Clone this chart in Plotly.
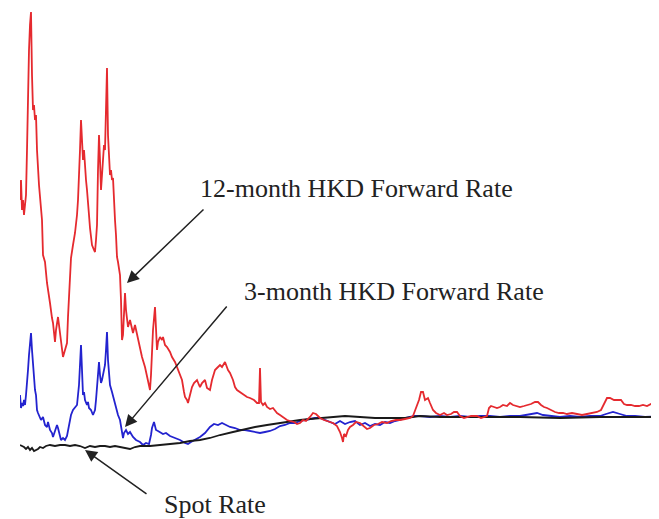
import plotly.graph_objects as go

# ---- data (time index, level) ----
t_red = [0,1,2,3,4,5,6,7,8,9,10,11,12,13,14,15,16,17,19,21,22,23,25,27,29,30,32,33,35,36,38,40,42,43,45,47,48,50,51,53,55,57,58,60,61,62,63,64,65,66,67,68,69,70,71,72,74,75,76,77,78,79,80,81,82,83,84,85,86,87,88,89,90,91,92,93,94,95,96,97,98,100,101,102,103,104,105,106,108,110,112,113,115,118,120,122,125,128,130,131,132,133,135,136,137,138,140,142,143,145,147,150,152,155,157,160,162,164,165,167,168,170,172,174,177,179,180,182,185,187,190,192,195,197,200,202,205,208,210,213,215,217,220,224,227,230,234,237,239,240,241,243,245,247,250,253,257,260,264,267,270,274,277,280,283,286,290,293,296,300,304,308,313,317,320,322,323,324,326,328,330,333,336,340,344,347,350,354,358,362,367,371,376,380,385,390,393,396,399,401,403,405,408,410,413,416,420,424,427,431,434,437,440,444,447,451,454,457,461,464,467,469,471,474,477,480,483,487,490,493,497,500,504,508,511,515,518,521,524,527,531,535,539,543,547,552,557,562,567,572,577,581,584,587,590,594,598,601,604,607,611,615,619,623,627,631,635,639]
red_12m = [319,339,309,319,304,314,324,369,429,469,494,507,444,409,414,399,404,369,334,304,299,264,257,236,224,216,201,196,177,189,202,184,172,162,169,176,202,254,261,274,286,304,319,369,399,379,359,369,347,339,329,309,304,291,284,274,269,267,279,294,349,384,359,329,344,364,374,369,409,451,384,369,344,349,339,341,312,299,284,262,257,244,219,179,184,214,226,209,192,199,189,186,194,179,169,162,152,139,129,144,169,189,212,189,169,177,182,179,182,174,172,167,162,157,152,144,139,127,122,119,116,124,132,136,139,134,132,136,139,131,129,139,149,151,154,152,157,149,146,139,132,129,127,124,122,121,119,116,116,151,117,114,116,112,110,111,106,104,101,99,98,97,95,96,99,98,102,106,105,101,99,98,96,93,87,81,77,85,83,89,92,94,97,96,93,90,91,94,95,97,96,98,99,99,100,101,103,111,119,127,127,119,121,116,109,106,104,106,104,105,107,107,103,101,102,103,103,103,101,102,103,111,113,112,111,112,114,113,116,114,113,112,113,114,115,117,117,114,112,111,109,107,106,106,105,106,105,104,105,106,107,109,115,121,121,119,119,119,115,114,114,113,113,114,113,115,114,114]

t_blue = [0,1,2,3,4,5,6,7,8,9,10,11,12,13,14,15,16,17,18,19,21,23,25,27,28,30,32,33,35,37,38,40,41,43,45,47,49,51,53,55,57,59,61,62,63,64,65,67,68,69,71,73,75,76,77,78,79,80,81,82,84,85,86,87,88,89,90,92,94,96,98,100,102,103,104,106,108,110,113,116,120,123,126,129,131,132,134,136,138,140,143,146,150,155,160,165,168,171,175,180,185,190,194,198,202,206,210,215,220,225,230,235,240,245,250,255,260,265,270,275,280,285,290,295,300,305,310,315,320,325,330,335,340,345,350,355,360,365,370,375,380,385,390,395,400,410,420,430,440,450,460,470,480,490,500,510,517,523,530,540,550,560,570,580,586,593,600,607,615,625,639]
blue_3m = [124,111,116,113,119,114,124,134,149,164,179,186,169,152,147,129,124,109,106,104,99,102,94,92,97,89,86,82,87,94,91,84,79,81,79,83,94,104,109,111,114,134,174,149,124,127,119,114,117,111,109,104,109,119,134,151,157,144,136,139,147,154,169,187,159,141,134,127,119,111,104,99,89,81,86,89,85,87,82,79,77,74,76,75,84,91,97,89,88,87,85,86,83,81,79,76,75,77,79,82,86,92,95,94,96,94,92,91,89,89,88,87,86,87,88,90,93,94,96,96,98,99,100,101,101,99,97,95,98,95,97,98,94,96,93,95,94,97,96,98,99,101,102,103,103,102,103,102,103,102,103,103,102,103,103,105,106,104,103,102,103,102,103,103,105,107,105,103,103,102,103]

t_spot = [0,2,4,6,8,10,12,14,16,18,20,23,26,30,35,40,45,50,55,60,65,70,75,80,85,90,95,100,105,110,115,120,130,140,150,160,170,180,190,200,213,225,235,247,260,270,280,290,300,313,325,340,355,370,385,400,420,460,500,540,580,620,639]
spot = [74,73,72,70,72,69,71,68,69,70,72,71,73,74,73,74,74,73,74,73,71,73,72,73,73,72,73,72,71,70,72,73,73,74,75,76,78,79,81,84,87,90,92,94,96,98,99,100,101,102,103,102,101,101,101,103,102,102,102,101,102,102,102]

labels = ["12-month HKD Forward Rate", "3-month HKD Forward Rate", "Spot Rate"]

fig = go.Figure()
fig.add_trace(go.Scatter(x=t_blue, y=blue_3m, mode="lines",
                         line=dict(color="#2323cf", width=1.8), name=labels[1]))
fig.add_trace(go.Scatter(x=t_spot, y=spot, mode="lines",
                         line=dict(color="#1a1a1a", width=1.8), name=labels[2]))
fig.add_trace(go.Scatter(x=t_red, y=red_12m, mode="lines",
                         line=dict(color="#e52a2f", width=1.8), name=labels[0]))

font = dict(family="Liberation Serif, Times New Roman, serif", size=26, color="#222")

# text labels
fig.add_annotation(x=178, y=331, text=labels[0], showarrow=False,
                   xanchor="left", yanchor="middle", font=font)
fig.add_annotation(x=222, y=228, text=labels[1], showarrow=False,
                   xanchor="left", yanchor="middle", font=font)
fig.add_annotation(x=142, y=15, text=labels[2], showarrow=False,
                   xanchor="left", yanchor="middle", font=font)

# arrows
arrow = dict(showarrow=True, text="", axref="x", ayref="y",
             arrowhead=2, arrowsize=1.6, arrowwidth=1.5, arrowcolor="#222",
             standoff=0, startstandoff=0)
fig.add_annotation(x=107, y=236, ax=185, ay=311, **arrow)
fig.add_annotation(x=105, y=92, ax=208, ay=214, **arrow)
fig.add_annotation(x=65, y=69, ax=128, ay=24, **arrow)

# the page body has an 8px margin; compensate via margins and ranges
fig.update_layout(width=659, height=519, margin=dict(l=12, r=0, t=0, b=0),
                  paper_bgcolor="white", plot_bgcolor="white", showlegend=False)
fig.update_xaxes(range=[0, 647], visible=False)
fig.update_yaxes(range=[-8, 511], visible=False)

fig.write_html("out.html")
